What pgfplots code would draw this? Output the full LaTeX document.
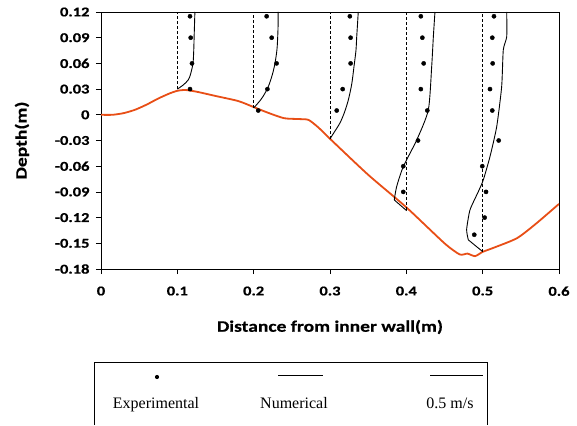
\documentclass[border=0pt]{standalone}
\usepackage{fontspec}
\usepackage{pgfplots}
\pgfplotsset{compat=1.18}
\newfontfamily\labfont[FakeStretch=1.22,FakeBold=0.6]{Carlito}
\newfontfamily\legfont{Liberation Serif}
\definecolor{bedorange}{RGB}{232,78,22}

\begin{document}
\begin{tikzpicture}
  \path[use as bounding box] (-101pt,-156pt) rectangle (476pt,269pt);
  \begin{axis}[
      at={(0,0)}, anchor=south west,
      scale only axis, width=458pt, height=257pt,
      xmin=0, xmax=0.6, ymin=-0.18, ymax=0.12,
      xtick={0,0.1,0.2,0.3,0.4,0.5,0.6},
      xticklabels={0,0.1,0.2,0.3,0.4,0.5,0.6},
      ytick={-0.18,-0.15,-0.12,-0.09,-0.06,-0.03,0,0.03,0.06,0.09,0.12},
      yticklabels={-0.18,-0.15,-0.12,-0.09,-0.06,-0.03,0,0.03,0.06,0.09,0.12},
      tick align=outside, tick pos=left, major tick length=5pt,
      axis line style={line width=0.9pt},
      tick style={black, line width=0.8pt},
      /pgf/number format/assume math mode=true,
      tick label style={font=\labfont\bfseries\fontsize{13.5}{13.5}\selectfont},
      xticklabel style={yshift=-9pt},
      yticklabel style={xshift=-3pt},
      label style={font=\labfont\bfseries\fontsize{16}{16}\selectfont},
      xlabel={Distance from inner wall(m)},
      ylabel={Depth(m)},
      xlabel style={at={(axis description cs:0.5,-0.2257)}, anchor=center},
      ylabel style={at={(axis description cs:-0.1725,0.5)}, anchor=center},
    ]
    % bed profile
    \addplot[bedorange, line width=1.8pt, smooth, tension=0.4] coordinates {
      (0,0) (0.015,0) (0.03,0.002) (0.045,0.006) (0.06,0.012) (0.075,0.019)
      (0.09,0.025) (0.1,0.028) (0.11,0.029) (0.125,0.027) (0.15,0.022)
      (0.18,0.016) (0.2,0.009) (0.22,0.002) (0.24,-0.004) (0.26,-0.005)
      (0.272,-0.006) (0.285,-0.015) (0.3,-0.028) (0.35,-0.07) (0.4,-0.108)
      (0.45,-0.15) (0.47,-0.163) (0.48,-0.162) (0.49,-0.165) (0.5,-0.16)
      (0.515,-0.155) (0.545,-0.144) (0.57,-0.127) (0.6,-0.104)};

    % stations
    \addplot[black, densely dashed, line width=0.6pt] coordinates {(0.1,0.03) (0.1,0.12)};
    \addplot[black, densely dashed, line width=0.6pt] coordinates {(0.2,0.008) (0.2,0.12)};
    \addplot[black, densely dashed, line width=0.6pt] coordinates {(0.3,-0.028) (0.3,0.12)};
    \addplot[black, densely dashed, line width=0.6pt] coordinates {(0.4,-0.111) (0.4,0.12)};
    \addplot[black, densely dashed, line width=0.6pt] coordinates {(0.5,-0.16) (0.5,0.12)};

    % numerical profiles
    \addplot[black, line width=0.9pt, smooth, tension=0.5] coordinates {
      (0.1,0.03) (0.108,0.035) (0.1145,0.041) (0.1175,0.048) (0.1205,0.06)
      (0.1215,0.075) (0.122,0.091) (0.1225,0.105) (0.123,0.12)};
    \addplot[black, line width=0.9pt, smooth, tension=0.5] coordinates {
      (0.2,0.008) (0.206,0.014) (0.212,0.021) (0.219,0.0325) (0.2245,0.047)
      (0.228,0.0605) (0.2305,0.076) (0.2315,0.091) (0.232,0.105) (0.232,0.12)};
    \addplot[black, line width=0.9pt, smooth, tension=0.5] coordinates {
      (0.3,-0.028) (0.3065,-0.019) (0.3131,-0.0095) (0.319,0.003) (0.324,0.0173)
      (0.3285,0.036) (0.3314,0.056) (0.334,0.075) (0.335,0.091) (0.336,0.105)
      (0.337,0.12)};
    \addplot[black, line width=0.9pt] coordinates {(0.4004,-0.1119) (0.3842,-0.0994)};
    \addplot[black, line width=0.9pt, smooth, tension=0.4] coordinates {
      (0.3842,-0.0994) (0.3873,-0.0839) (0.396,-0.0605)
      (0.4136,-0.0294) (0.4288,0.0056) (0.4332,0.0562) (0.4354,0.0912)
      (0.4375,0.12)};
    \addplot[black, line width=0.9pt] coordinates {(0.5,-0.1597) (0.4812,-0.146)};
    \addplot[black, line width=0.9pt, smooth, tension=0.35] coordinates {
      (0.4812,-0.146) (0.479,-0.134) (0.4834,-0.111)
      (0.4943,-0.0897) (0.5008,-0.0761) (0.5096,-0.0488) (0.5184,-0.0138)
      (0.5249,0.0329) (0.527,0.0757) (0.5315,0.0912) (0.5315,0.12)};

    % experimental points
    \addplot[only marks, mark=*, mark size=2.1pt, black] coordinates {
      (0.1166,0.115) (0.1175,0.09) (0.1192,0.06) (0.1166,0.03)
      (0.217,0.115) (0.2236,0.09) (0.230,0.06) (0.218,0.03) (0.206,0.005)
      (0.326,0.115) (0.327,0.09) (0.327,0.06) (0.3166,0.03) (0.3088,0.005)
      (0.419,0.115) (0.421,0.09) (0.4227,0.06) (0.419,0.03) (0.4275,0.005)
      (0.4153,-0.03) (0.396,-0.06) (0.396,-0.09)
      (0.5148,0.115) (0.5126,0.09) (0.5131,0.06) (0.5096,0.03) (0.5126,0.005)
      (0.521,-0.03) (0.4995,-0.06) (0.5044,-0.09) (0.5026,-0.12) (0.489,-0.14)};
  \end{axis}

  % legend box (open at the bottom, cut by the page edge)
  \draw[line width=0.7pt] (-7pt,-156pt) -- (-7pt,-93pt) -- (386pt,-93pt) -- (386pt,-156pt);
  \fill (56pt,-108pt) circle (2.1pt);
  \draw[line width=0.9pt] (177pt,-106pt) -- (222pt,-106pt);
  \draw[line width=0.9pt] (329pt,-106pt) -- (382pt,-106pt);
  \node[font=\legfont\fontsize{16}{16}\selectfont, anchor=base] at (55pt,-139pt) {Experimental};
  \node[font=\legfont\fontsize{16}{16}\selectfont, anchor=base] at (193pt,-139pt) {Numerical};
  \node[font=\legfont\fontsize{16}{16}\selectfont, anchor=base] at (349pt,-139pt) {0.5 m/s};
\end{tikzpicture}
\end{document}
